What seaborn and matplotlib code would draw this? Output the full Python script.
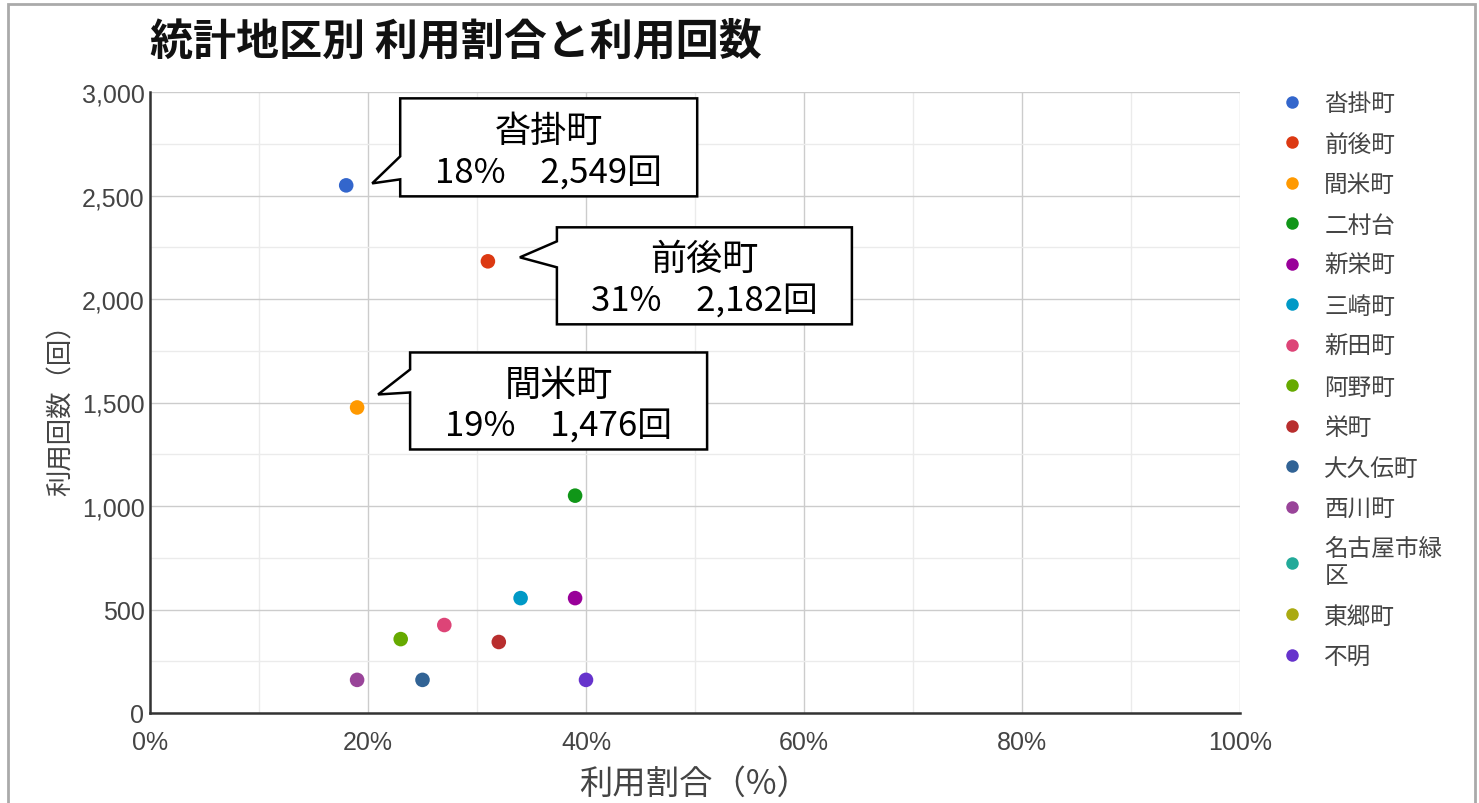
import numpy as np
import pandas as pd
import matplotlib
matplotlib.use("Agg")
import matplotlib.pyplot as plt
import matplotlib.transforms as mtransforms
from matplotlib.patches import Polygon, Rectangle
from matplotlib.ticker import MultipleLocator, FuncFormatter
from matplotlib.lines import Line2D
import seaborn as sns

# ---- data ----
districts = ['沓掛町', '前後町', '間米町', '二村台', '新栄町', '三崎町', '新田町',
             '阿野町', '栄町', '大久伝町', '西川町', '名古屋市緑区', '東郷町', '不明']
usage_pct = [18, 31, 19, 39, 39, 34, 27, 23, 32, 25, 19, np.nan, np.nan, 40]
usage_cnt = [2549, 2182, 1476, 1050, 555, 555, 425, 357, 343, 160, 160, np.nan, np.nan, 160]
colors = ['#3366cc', '#dc3912', '#ff9900', '#109618', '#990099', '#0099c6', '#dd4477',
          '#66aa00', '#b82e2e', '#316395', '#994499', '#22aa99', '#aaaa11', '#6633cc']
legend_labels = ['沓掛町', '前後町', '間米町', '二村台', '新栄町', '三崎町', '新田町',
                 '阿野町', '栄町', '大久伝町', '西川町', '名古屋市緑\n区', '東郷町', '不明']
callout_names = ['沓掛町', '前後町', '間米町']

df = pd.DataFrame({'地区': districts, 'pct': usage_pct, 'cnt': usage_cnt})

sns.set_theme(style="white")
plt.rcParams['font.family'] = ['Liberation Sans', 'Noto Sans CJK JP', 'DejaVu Sans']

W, H = 1479, 804
fig = plt.figure(figsize=(W / 100, H / 100), dpi=100)
ax = fig.add_axes([150 / W, 1 - 714 / H, (1240 - 150) / W, (714 - 93) / H])

sns.scatterplot(data=df, x='pct', y='cnt', hue='地区', hue_order=districts,
                palette=colors, s=110, edgecolor='none', ax=ax, legend=False, zorder=3)

ax.set_xlim(0, 100)
ax.set_ylim(0, 3000)
ax.xaxis.set_major_locator(MultipleLocator(20))
ax.xaxis.set_minor_locator(MultipleLocator(10))
ax.yaxis.set_major_locator(MultipleLocator(500))
ax.yaxis.set_minor_locator(MultipleLocator(250))
ax.xaxis.set_major_formatter(FuncFormatter(lambda v, p: f"{int(v)}%"))
ax.yaxis.set_major_formatter(FuncFormatter(lambda v, p: f"{int(v):,}"))
ax.grid(True, which='major', color='#cccccc', lw=1.0, zorder=0)
ax.grid(True, which='minor', color='#ebebeb', lw=1.0, zorder=0)
ax.set_axisbelow(True)
ax.tick_params(axis='both', which='both', length=0, labelsize=18, colors='#444444')
ax.tick_params(axis='x', pad=12)
ax.tick_params(axis='y', pad=4)
for s in ['top', 'right']:
    ax.spines[s].set_visible(False)
for s in ['left', 'bottom']:
    ax.spines[s].set_color('#333333')
    ax.spines[s].set_linewidth(1.8)

ax.set_xlabel('利用割合（%）', fontsize=24, color='#444444', labelpad=9,
              family=['Noto Sans CJK JP'])
ax.set_ylabel('利用回数（回）', fontsize=19, color='#444444', labelpad=5,
              family=['Noto Sans CJK JP'])

fig.text(150 / W, 1 - 42 / H, '統計地区別 利用割合と利用回数', fontsize=31,
         fontweight='bold', family=['Noto Sans CJK JP'], va='center', ha='left',
         color='#111111')

# ---- legend ----
handles = [Line2D([], [], marker='o', ls='none', markersize=9, markerfacecolor=c,
                  markeredgecolor='none') for c in colors]
leg = fig.legend(handles, legend_labels, loc='upper left',
                 bbox_to_anchor=(1257 / W, 1 - 72 / H), frameon=False,
                 labelspacing=0.74, handletextpad=0.75, handlelength=1.2,
                 prop={'family': ['Noto Sans CJK JP'], 'size': 17})
for t in leg.get_texts():
    t.set_color('#444444')

# ---- callouts (offsets in pixels relative to the point, image y-down) ----
shapes = {
    '沓掛町': dict(L=54, R=351, T=-87, B=11, b1=-29, b2=-6, tip=(26, -2)),
    '前後町': dict(L=69, R=364, T=-34, B=63, b1=-20, b2=6, tip=(32, -4)),
    '間米町': dict(L=53, R=350, T=-55, B=42, b1=-38, b2=-15, tip=(21, -13)),
}
ident = mtransforms.IdentityTransform()
fig.canvas.draw()
for name in callout_names:
    i = districts.index(name)
    px, py = ax.transData.transform((usage_pct[i], usage_cnt[i]))
    sh = shapes[name]

    def P(dx, dy):
        return (px + dx, py - dy)
    verts = [P(sh['L'], sh['T']), P(sh['R'], sh['T']), P(sh['R'], sh['B']),
             P(sh['L'], sh['B']), P(sh['L'], sh['b2']), P(*sh['tip']),
             P(sh['L'], sh['b1'])]
    poly = Polygon(verts, closed=True, facecolor='white', edgecolor='black',
                   lw=1.8, transform=ident, zorder=5, joinstyle='miter')
    fig.add_artist(poly)
    cx = px + (sh['L'] + sh['R']) / 2
    h = sh['B'] - sh['T']
    y1 = py - (sh['T'] + 0.33 * h)
    y2 = py - (sh['T'] + 0.76 * h)
    fig.text(cx, y1, name, transform=ident, ha='center', va='center',
             fontsize=26, family=['Noto Sans CJK JP'], color='black', zorder=6)
    fig.text(cx, y2, f"{int(usage_pct[i])}%　{int(usage_cnt[i]):,}回", transform=ident,
             ha='center', va='center', fontsize=25, family=['Noto Sans CJK JP'],
             color='black', zorder=6)

# outer frame
fig.add_artist(Rectangle((8 / W, -0.01), (1475 - 8) / W, 1 - 5 / H + 0.01,
                         transform=fig.transFigure, fill=False,
                         edgecolor='#aaaaaa', lw=2))

fig.savefig('out.png', dpi=100)
